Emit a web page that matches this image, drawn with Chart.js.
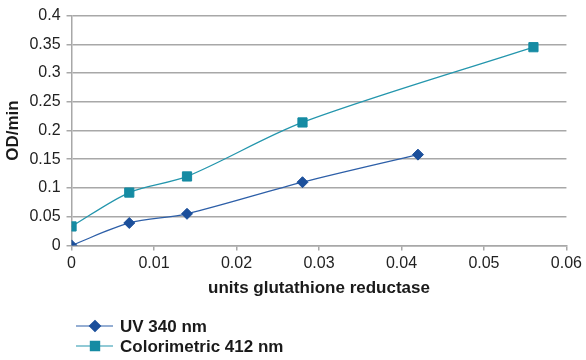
<!DOCTYPE html>
<html>
<head>
<meta charset="utf-8">
<script src="https://cdn.jsdelivr.net/npm/chart.js@4/dist/chart.umd.min.js"></script>
<style>
  html, body { margin: 0; padding: 0; background: #ffffff; }
  #wrap { width: 586px; height: 360px; position: relative; }
</style>
</head>
<body>
<div id="wrap"><canvas id="chartCanvas"></canvas></div>
<script>
// Data
const unitsUV = [0, 0.007, 0.014, 0.028, 0.042];
const odUV = [0, 0.039, 0.055, 0.11, 0.158];
const unitsColor = [0, 0.007, 0.014, 0.028, 0.056];
const odColor = [0.033, 0.092, 0.12, 0.214, 0.345];
const seriesNames = ['UV 340 nm', 'Colorimetric 412 nm'];
const xTitle = 'units glutathione reductase';
const yTitle = 'OD/min';

const FONT = "'Liberation Sans', Arial, Helvetica, sans-serif";
const uvLine = '#2d5fa8', uvMark = '#1b4f9b';
const colLine = '#2496ad', colMark = '#158ba3';

function toPoints(xs, ys) {
    return xs.map((x, i) => ({ x: x, y: ys[i] }));
}

// Excel style tick text: 0.4, 0.35, 0
function shortNum(value) {
    return String(Number(value.toFixed(3)));
}

// Legend drawn below the axis title: short line with the marker on it
const legendPlugin = {
    id: 'stackedLegend',
    afterDraw(chart) {
        const ctx = chart.ctx;
        const rows = [
            { text: seriesNames[0], line: uvLine, mark: uvMark, style: 'rectRot', r: 5.5, y: 326 },
            { text: seriesNames[1], line: colLine, mark: colMark, style: 'rect', r: 6.5, y: 346 }
        ];
        ctx.save();
        rows.forEach(row => {
            ctx.strokeStyle = row.line;
            ctx.lineWidth = 1.2;
            ctx.beginPath();
            ctx.moveTo(76, row.y);
            ctx.lineTo(113, row.y);
            ctx.stroke();
            ctx.fillStyle = row.mark;
            ctx.strokeStyle = row.mark;
            Chart.helpers.drawPoint(ctx, { pointStyle: row.style, radius: row.r, borderWidth: 1 }, 95, row.y);
            ctx.fillStyle = '#1a1a1a';
            ctx.font = 'bold 17px ' + FONT;
            ctx.textBaseline = 'middle';
            ctx.fillText(row.text, 120, row.y + 1);
        });
        ctx.restore();
    }
};

const ctx = document.getElementById('chartCanvas');
new Chart(ctx, {
    type: 'scatter',
    data: {
        datasets: [
            {
                label: seriesNames[0],
                data: toPoints(unitsUV, odUV),
                showLine: true,
                borderColor: uvLine,
                borderWidth: 1.3,
                tension: 0.3,
                pointStyle: 'rectRot',
                pointRadius: 5.5,
                pointBackgroundColor: uvMark,
                pointBorderColor: uvMark,
                pointBorderWidth: 1
            },
            {
                label: seriesNames[1],
                data: toPoints(unitsColor, odColor),
                showLine: true,
                borderColor: colLine,
                borderWidth: 1.3,
                tension: 0.3,
                pointStyle: 'rect',
                pointRadius: 6.5,
                pointBackgroundColor: colMark,
                pointBorderColor: colMark,
                pointBorderWidth: 1
            }
        ]
    },
    options: {
        responsive: true,
        maintainAspectRatio: false,
        animation: false,
        layout: { padding: { left: 3, right: 0, top: 5, bottom: 61 } },
        plugins: {
            legend: { display: false },
            tooltip: { enabled: false }
        },
        scales: {
            x: {
                type: 'linear',
                min: 0,
                max: 0.06,
                ticks: {
                    stepSize: 0.01,
                    color: '#222',
                    font: { family: FONT, size: 16 },
                    padding: 4,
                    callback: shortNum
                },
                grid: {
                    drawOnChartArea: false,
                    drawTicks: true,
                    tickLength: 5,
                    color: '#a8a8a8',
                    lineWidth: 1.5
                },
                border: { color: '#a8a8a8', width: 1.5 },
                title: {
                    display: true,
                    text: xTitle,
                    color: '#1a1a1a',
                    font: { family: FONT, size: 17, weight: 'bold' },
                    padding: { top: 1, bottom: 0 }
                }
            },
            y: {
                type: 'linear',
                min: 0,
                max: 0.4,
                ticks: {
                    stepSize: 0.05,
                    color: '#222',
                    font: { family: FONT, size: 16 },
                    padding: 6,
                    callback: shortNum
                },
                grid: {
                    drawTicks: true,
                    tickLength: 5,
                    color: '#a8a8a8',
                    lineWidth: 1.5
                },
                border: { color: '#a8a8a8', width: 1.5 },
                title: {
                    display: true,
                    text: yTitle,
                    color: '#1a1a1a',
                    font: { family: FONT, size: 17, weight: 'bold' },
                    padding: { top: 0, bottom: 0 }
                }
            }
        }
    },
    plugins: [legendPlugin]
});
</script>
</body>
</html>
